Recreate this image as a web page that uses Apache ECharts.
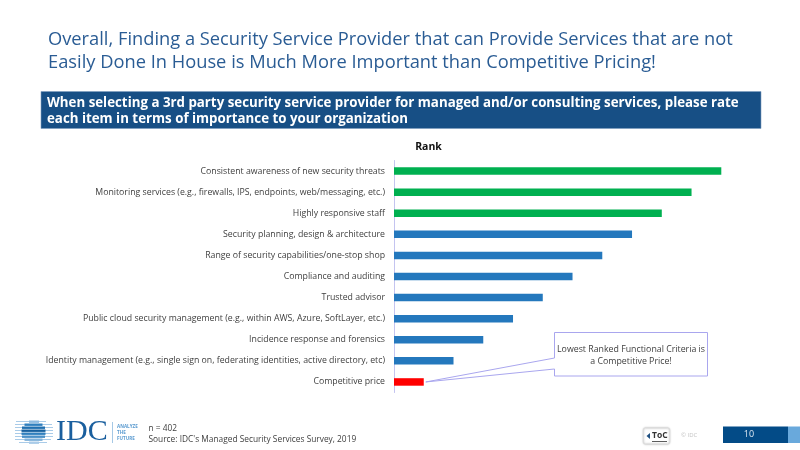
<!DOCTYPE html>
<html><head><meta charset="utf-8">
<style>html,body{margin:0;padding:0;background:#fff}#c{width:800px;height:450px}</style>
<script src="https://cdn.jsdelivr.net/npm/echarts@6/dist/echarts.min.js"></script>
</head><body><div id="c"></div>
<script>
const categories = [
  "Consistent awareness of new security threats",
  "Monitoring services (e.g., firewalls, IPS, endpoints, web/messaging, etc.)",
  "Highly responsive staff",
  "Security planning, design & architecture",
  "Range of security capabilities/one-stop shop",
  "Compliance and auditing",
  "Trusted advisor",
  "Public cloud security management (e.g., within AWS, Azure, SoftLayer, etc.)",
  "Incidence response and forensics",
  "Identity management (e.g., single sign on, federating identities, active directory, etc)",
  "Competitive price"
];
const values = [11, 10, 9, 8, 7, 6, 5, 4, 3, 2, 1];
const barColors = ["#00b050","#00b050","#00b050","#2478bd","#2478bd","#2478bd","#2478bd","#2478bd","#2478bd","#2478bd","#ff0000"];
const titleText = "Overall, Finding a Security Service Provider that can Provide Services that are not\nEasily Done In House is Much More Important than Competitive Pricing!";
const bandText = "When selecting a 3rd party security service provider for managed and/or consulting services, please rate\neach item in terms of importance to your organization";
const calloutText = "Lowest Ranked Functional Criteria is\na Competitive Price!";
const FONT = '"Open Sans"';

const chart = echarts.init(document.getElementById('c'), null, {renderer:'canvas'});
const logoLines = [[16,421,30],[15,424,37],[15,427,38],[15,430,38],[15,433,38],[15,436,38],[15,439,36],[19,442,28]];
const logoBand = [[29,421,10,'#8fbbe0'],[24.5,424,18,'#2f7fbe'],[22,427,23,'#1f6fb0'],[21.5,430,24,'#16609f'],[21.5,433,24,'#2f7fbe'],[22,436,23,'#4a90c8'],[24.5,439,18,'#7fb1da'],[29,442,10,'#a9cbe8']];
const logo = logoLines.map(g => ({type:'rect', shape:{x:g[0],y:g[1],width:g[2],height:1},style:{fill:'#a9cbe8'}}))
  .concat(logoBand.map(g => ({type:'rect', shape:{x:g[0],y:g[1]-0.5,width:g[2],height:2.4},style:{fill:g[3]}})));

chart.setOption({
  animation:false,
  title:{text:titleText,left:43,top:24,textStyle:{fontFamily:FONT,fontSize:18.3,fontWeight:'normal',color:'#2a5c94',lineHeight:22.5}},
  grid:{left:394,top:160.5,width:327.3,height:232,containLabel:false},
  xAxis:{type:'value',min:0,max:11,show:false},
  yAxis:{type:'category',inverse:true,data:categories,
    axisLine:{show:true,lineStyle:{color:'#c4c4f0',width:1}},axisTick:{show:false},
    axisLabel:{fontFamily:FONT,fontSize:8.75,color:'#404040',margin:9,interval:0}},
  series:[{type:'bar',barWidth:7.5,data:values.map((v,i)=>({value:v,itemStyle:{color:barColors[i]}}))}]
});
const tip = chart.convertToPixel({xAxisIndex:0,yAxisIndex:0},[values[10],categories[10]]);
const tx = tip[0]+2, ty = tip[1];
chart.setOption({graphic:[
  {type:'rect',z:-1,shape:{x:41,y:91.5,width:720,height:37},style:{fill:'#174f85',stroke:'#7f9fc0',lineWidth:0.6}},
  {type:'text',style:{x:47,y:95,text:bandText,fontFamily:FONT,fontSize:13.3,fontWeight:'bold',fill:'#fff',lineHeight:16}},
  {type:'text',style:{x:428.5,y:147.5,text:'Rank',fontFamily:FONT,fontSize:10.5,fontWeight:'bold',fill:'#111',align:'center',verticalAlign:'middle'}},
  {type:'polygon',shape:{points:[[554.5,332.5],[707.5,332.5],[707.5,376],[554.5,376],[554.5,369],[tx,ty],[554.5,358]]},style:{fill:'#fff',stroke:'#a9a6ee',lineWidth:1}},
  {type:'text',style:{x:631,y:355,text:calloutText,fontFamily:FONT,fontSize:8.8,fill:'#404040',align:'center',verticalAlign:'middle',lineHeight:12}},
  ...logo,
  {type:'text',style:{x:56,y:432.5,text:'IDC',fontFamily:'"Liberation Serif"',fontSize:30,fill:'#1a5f9e',verticalAlign:'middle'}},
  {type:'rect',shape:{x:112,y:422,width:0.7,height:21},style:{fill:'#7fb1da'}},
  {type:'text',style:{x:117,y:424,text:'ANALYZE\nTHE\nFUTURE',fontFamily:FONT,fontSize:4.6,fontWeight:'bold',fill:'#5b9bd0',lineHeight:6,verticalAlign:'top'}},
  {type:'text',style:{x:148.5,y:423,text:"n = 402\nSource: IDC's Managed Security Services Survey, 2019",fontFamily:FONT,fontSize:8.35,fill:'#404040',lineHeight:11}},
  {type:'rect',shape:{x:643.5,y:428,width:26,height:16,r:2},style:{fill:'#fff',stroke:'#ddd',lineWidth:1,shadowBlur:2,shadowColor:'rgba(0,0,0,0.25)'}},
  {type:'polygon',shape:{points:[[646.5,436],[650,433],[650,439]]},style:{fill:'#1f4f80'}},
  {type:'text',style:{x:652,y:436,text:'ToC',fontFamily:FONT,fontSize:8.5,fontWeight:'bold',fill:'#333',verticalAlign:'middle'}},
  {type:'rect',shape:{x:652,y:441,width:15,height:0.8},style:{fill:'#333'}},
  {type:'text',style:{x:681,y:435.5,text:'© IDC',fontFamily:FONT,fontSize:6,fill:'#c4c4c4',verticalAlign:'middle'}},
  {type:'rect',shape:{x:723,y:426.5,width:65,height:16.5},style:{fill:'#034b87'}},
  {type:'rect',shape:{x:788,y:426.5,width:12,height:16.5},style:{fill:'#69a9dc'}},
  {type:'text',style:{x:749,y:434,text:'10',fontFamily:FONT,fontSize:9,fill:'#dfe9f3',align:'center',verticalAlign:'middle'}}
]});
</script></body></html>
